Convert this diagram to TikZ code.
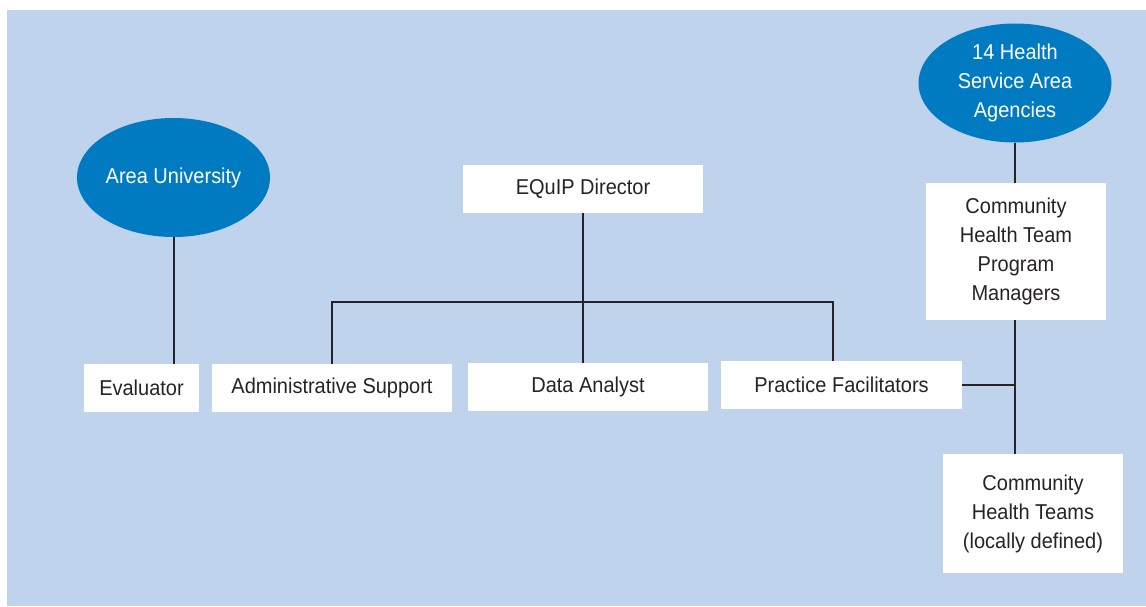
\documentclass[tikz,border=0pt]{standalone}
\usepackage{xcolor}
\usepackage{fontspec}
\setmainfont{Liberation Sans}[FakeStretch=0.93]
\usepackage{tikz}
\usetikzlibrary{shapes.geometric}
\usetikzlibrary{positioning,calc}
\definecolor{bgblue}{RGB}{192,211,236}
\definecolor{ovalblue}{RGB}{0,123,194}
\definecolor{txtgray}{RGB}{38,35,36}

\begin{document}
\begin{tikzpicture}[x=1pt,y=-1pt,
	box/.style={rectangle,fill=white,text=txtgray,inner sep=0pt,align=center,font=\fontsize{21.5}{29}\selectfont},
	oval/.style={ellipse,fill=ovalblue,text=white,inner sep=0pt,align=center,minimum width=193,minimum height=119,font=\fontsize{21.5}{29}\selectfont},
	link/.style={line width=2pt,txtgray}]
		\useasboundingbox (0,0) rectangle (1146,606);
		\fill[bgblue] (7,10) rectangle (1146,606);
		% ovals
		\node[oval] (univ) at (173.5,177.5) {Area University};
		\node[oval] (hsa) at (1015,83) {14 Health\\Service Area\\Agencies};
		% boxes
		\node[box,minimum width=240,minimum height=48] (director) at (583,189) {EQuIP Director};
		\node[box,minimum width=115,minimum height=48] (evaluator) at (141.5,388) {Evaluator};
		\node[box,minimum width=240,minimum height=48] (admin) at (332,388) {Administrative Support};
		\node[box,minimum width=240,minimum height=48] (analyst) at (588,387) {Data Analyst};
		\node[box,minimum width=241,minimum height=48] (facil) at (841.5,385) {Practice Facilitators};
		\node[box,minimum width=180,minimum height=137] (managers) at (1016,251.5) {Community\\Health Team\\Program\\Managers};
		\node[box,minimum width=180,minimum height=119] (teams) at (1033,513.5) {Community\\Health Teams\\(locally defined)};
		% connectors
		\coordinate (barL) at (332,302);
		\coordinate (barR) at (833,302);
		\draw[link] (director.south) -- (director.south |- analyst.north);
		\draw[link] (admin.north) -- (barL) -- (barR) -- (barR |- facil.north);
		\draw[link] (univ.south) -- (univ.south |- evaluator.north);
		\draw[link] (hsa.south) -- (hsa.south |- managers.north);
		\draw[link] (hsa.south |- managers.south) -- (hsa.south |- teams.north);
		\draw[link] (facil.east) -- (facil.east -| hsa.south);
	\end{tikzpicture}
\end{document}
